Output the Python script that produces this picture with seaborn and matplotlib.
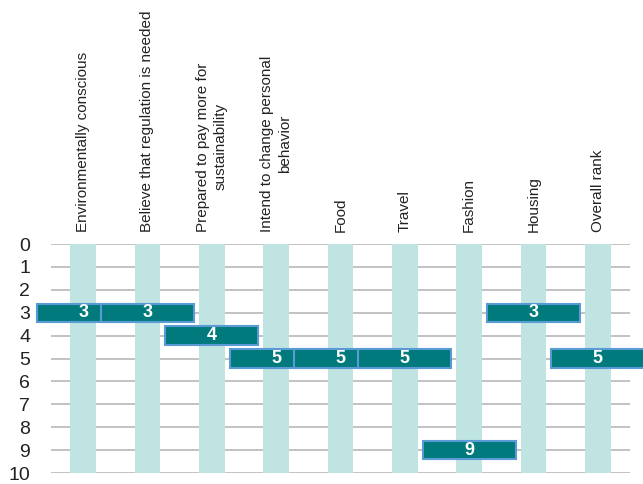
import matplotlib
matplotlib.use("Agg")
import matplotlib.pyplot as plt
import seaborn as sns
import pandas as pd

categories = [
    "Environmentally conscious",
    "Believe that regulation is needed",
    "Prepared to pay more for\nsustainability",
    "Intend to change personal\nbehavior",
    "Food",
    "Travel",
    "Fashion",
    "Housing",
    "Overall rank",
]
ranks = [3, 3, 4, 5, 5, 5, 9, 3, 5]
y_ticks = list(range(0, 11))
max_rank = 10

sns.set_theme(style="white")
plt.rcParams["font.family"] = ["Liberation Sans", "DejaVu Sans"]

fig = plt.figure(figsize=(6.43, 4.84), dpi=100)
ax = fig.add_axes([51 / 643, 11 / 484, 579 / 643, 229 / 484])

df = pd.DataFrame({"cat": categories, "full": [max_rank] * len(categories), "rank": ranks})

sns.barplot(data=df, x="cat", y="full", color="#bfe4e1", width=0.4, ax=ax,
            saturation=1, linewidth=0, zorder=2)

xs = list(range(len(categories)))
for i, r in enumerate(ranks):
    ax.bar(xs[i], 0.8, bottom=r - 0.4, width=1.45, color="#007a7c",
           edgecolor="#5b9bd5", linewidth=1.5, zorder=3 + i, clip_on=False)
for i, r in enumerate(ranks):
    ax.text(xs[i], r, str(r), ha="center", va="center", color="white",
            fontsize=13, fontweight="bold", zorder=20, clip_on=False)

ax.set_xlim(-0.5, len(categories) - 0.5)
ax.set_ylim(max_rank, 0)
ax.set_yticks(y_ticks)
ax.set_yticklabels([str(v) for v in y_ticks], fontsize=14, color="#222222")
ax.tick_params(axis="y", length=0, pad=15)
ax.xaxis.tick_top()
ax.set_xticks(xs)
ax.set_xticklabels(categories, rotation=90, fontsize=11, color="#222222",
                   ha="center", va="bottom", multialignment="center",
                   linespacing=1.35)
ax.tick_params(axis="x", length=0, pad=9)
ax.set_xlabel("")
ax.set_ylabel("")
ax.yaxis.grid(True, color="#bdbdbd", linewidth=1.3, zorder=0)
ax.set_axisbelow(True)
for s in ax.spines.values():
    s.set_visible(False)

fig.savefig("out.png", dpi=100)
